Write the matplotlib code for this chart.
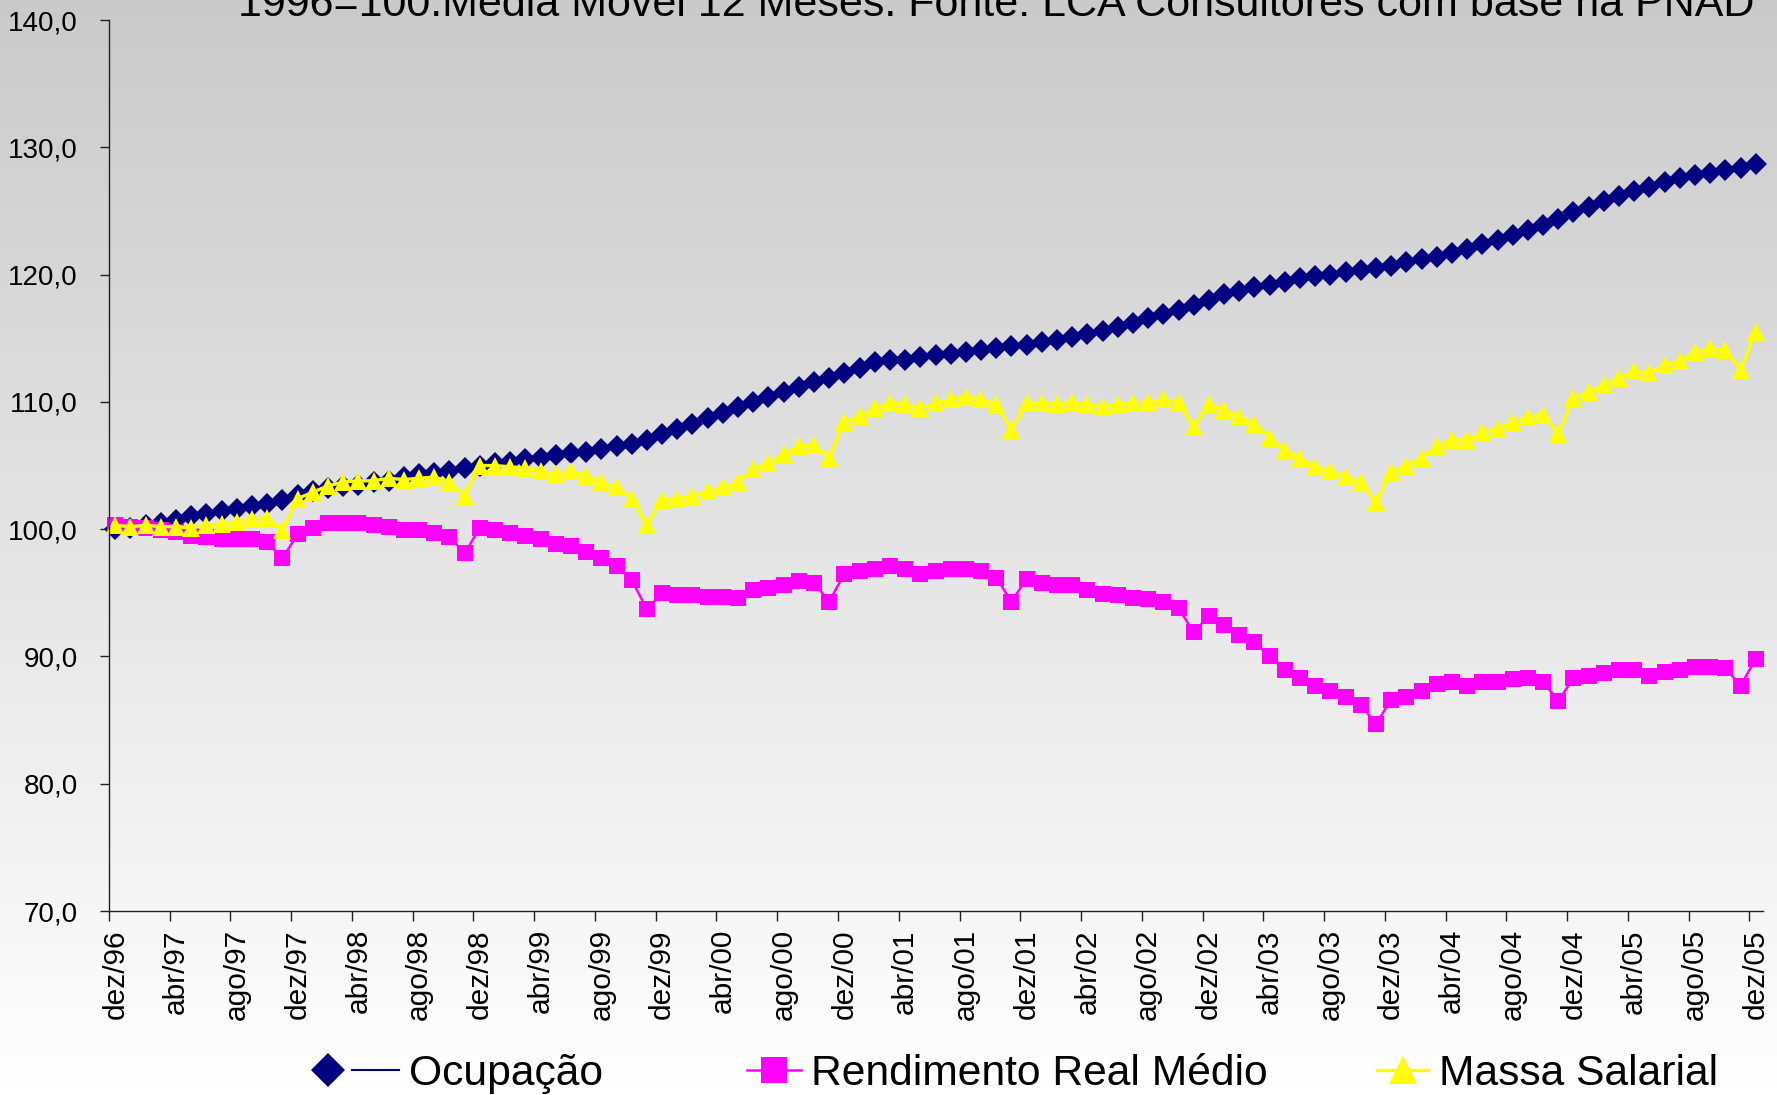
"""Ocupação, Rendimento Real Médio e Massa Salarial (1996=100, média móvel 12 meses)."""

import matplotlib

matplotlib.use("Agg")
import matplotlib.pyplot as plt
import numpy as np
from matplotlib.colors import LinearSegmentedColormap
from matplotlib.legend_handler import HandlerTuple
from matplotlib.lines import Line2D

plt.rcParams["font.family"] = ["Liberation Sans", "DejaVu Sans"]

TITLE = "1996=100.Média Móvel 12 Meses. Fonte: LCA Consultores com base na PNAD"

# meses de dez/96 a dez/05 (109 pontos)
OCUPACAO = [
    100.0, 100.1, 100.3, 100.5, 100.7, 101.0, 101.2, 101.4, 101.6, 101.8,
    102.0, 102.3, 102.7, 103.0, 103.2, 103.4, 103.5, 103.7, 103.8, 104.1,
    104.3, 104.4, 104.6, 104.8, 105.0, 105.2, 105.3, 105.5, 105.6, 105.8,
    106.0, 106.1, 106.3, 106.5, 106.7, 107.0, 107.5, 107.9, 108.3, 108.7,
    109.1, 109.6, 110.0, 110.4, 110.8, 111.2, 111.6, 111.9, 112.3, 112.7,
    113.1, 113.3, 113.3, 113.5, 113.7, 113.8, 113.9, 114.1, 114.2, 114.4,
    114.5, 114.7, 114.9, 115.1, 115.3, 115.6, 115.9, 116.2, 116.6, 116.9,
    117.2, 117.6, 118.0, 118.5, 118.7, 119.0, 119.2, 119.4, 119.7, 119.9,
    120.0, 120.2, 120.4, 120.5, 120.7, 121.0, 121.2, 121.4, 121.7, 122.0,
    122.4, 122.7, 123.1, 123.5, 123.9, 124.4, 124.9, 125.3, 125.8, 126.2,
    126.6, 126.9, 127.3, 127.6, 127.8, 128.0, 128.2, 128.4, 128.7,
]
RENDIMENTO = [
    100.3, 100.2, 100.1, 99.9, 99.8, 99.5, 99.4, 99.2, 99.2, 99.2,
    99.0, 97.7, 99.6, 100.1, 100.5, 100.5, 100.5, 100.3, 100.2, 99.9,
    99.9, 99.7, 99.4, 98.1, 100.1, 99.9, 99.7, 99.5, 99.2, 98.8,
    98.7, 98.2, 97.7, 97.1, 96.0, 93.7, 95.0, 94.8, 94.8, 94.7,
    94.7, 94.6, 95.2, 95.4, 95.6, 95.9, 95.8, 94.3, 96.5, 96.7,
    96.9, 97.1, 96.9, 96.5, 96.7, 96.9, 96.9, 96.7, 96.2, 94.3,
    96.1, 95.8, 95.6, 95.6, 95.2, 94.9, 94.8, 94.6, 94.5, 94.3,
    93.8, 91.9, 93.2, 92.5, 91.7, 91.1, 90.0, 88.9, 88.3, 87.7,
    87.3, 86.8, 86.2, 84.7, 86.6, 86.8, 87.3, 87.8, 88.0, 87.7,
    88.0, 88.0, 88.2, 88.3, 88.0, 86.5, 88.3, 88.5, 88.7, 88.9,
    88.9, 88.5, 88.8, 88.9, 89.2, 89.2, 89.1, 87.7, 89.8,
]
MASSA = [
    100.3, 100.2, 100.3, 100.2, 100.2, 100.1, 100.3, 100.4, 100.6, 100.8,
    100.9, 99.9, 102.4, 102.9, 103.4, 103.7, 103.8, 103.8, 104.0, 103.9,
    104.0, 104.1, 103.7, 102.6, 105.0, 105.0, 104.9, 104.8, 104.6, 104.3,
    104.6, 104.2, 103.7, 103.3, 102.4, 100.3, 102.3, 102.4, 102.6, 103.0,
    103.3, 103.7, 104.7, 105.2, 105.9, 106.5, 106.6, 105.6, 108.4, 108.9,
    109.5, 109.9, 109.8, 109.5, 109.9, 110.2, 110.4, 110.2, 109.8, 107.8,
    109.9, 109.9, 109.8, 110.0, 109.8, 109.6, 109.8, 109.9, 110.0, 110.2,
    110.0, 108.0, 109.8, 109.4, 108.8, 108.3, 107.2, 106.2, 105.6, 104.9,
    104.6, 104.1, 103.7, 102.1, 104.5, 105.0, 105.6, 106.5, 107.0, 107.0,
    107.6, 107.9, 108.4, 108.8, 109.0, 107.5, 110.3, 110.8, 111.3, 111.9,
    112.4, 112.3, 112.9, 113.2, 113.9, 114.2, 114.1, 112.5, 115.5,
]
TICK_LABELS = [
    "dez/96", "abr/97", "ago/97", "dez/97", "abr/98", "ago/98", "dez/98",
    "abr/99", "ago/99", "dez/99", "abr/00", "ago/00", "dez/00", "abr/01",
    "ago/01", "dez/01", "abr/02", "ago/02", "dez/02", "abr/03", "ago/03",
    "dez/03", "abr/04", "ago/04", "dez/04", "abr/05", "ago/05", "dez/05",
]
Y_TICKS = [70, 80, 90, 100, 110, 120, 130, 140]

NAVY = "#000080"
MAGENTA = "#FF00FF"
YELLOW = "#FFFF00"
TICK_SHIFT = 0.42  # marcas do eixo ficam um pouco antes de cada ponto

fig = plt.figure(figsize=(17.77, 10.95), dpi=100)

# fundo em degradê (cinza no topo, branco embaixo)
bg = fig.add_axes([0, 0, 1, 1], zorder=-10)
grad = np.linspace(0, 1, 256).reshape(-1, 1)
cmap = LinearSegmentedColormap.from_list("bg", ["#cacaca", "#ffffff"])
bg.imshow(grad, aspect="auto", cmap=cmap, extent=[0, 1, 0, 1], origin="upper")
bg.axis("off")

ax = fig.add_axes([0.0613, 0.168, 0.931, 0.8137])
ax.set_facecolor("none")

x = np.arange(len(OCUPACAO))
ax.plot(x, OCUPACAO, color=NAVY, linewidth=1.5, marker="D", markersize=11.5,
        markeredgewidth=0, clip_on=False)
ax.plot(x, RENDIMENTO, color=MAGENTA, linewidth=1.8, marker="s", markersize=12,
        markeredgewidth=0, clip_on=False)
ax.plot(x, MASSA, color=YELLOW, linewidth=2.4, marker="^", markersize=13,
        markeredgewidth=0, clip_on=False)

ax.set_xlim(-TICK_SHIFT, 108.5)
ax.set_ylim(70, 140)
ax.set_yticks(Y_TICKS)
ax.set_yticklabels([f"{v:.1f}".replace(".", ",") for v in Y_TICKS])
label_pos = np.arange(0, len(OCUPACAO), 4)
ax.set_xticks(label_pos)
ax.set_xticklabels(TICK_LABELS, rotation=90)
ax.set_xticks(label_pos - TICK_SHIFT, minor=True)

for side in ("top", "right"):
    ax.spines[side].set_visible(False)
for side in ("left", "bottom"):
    ax.spines[side].set_color("#202020")
    ax.spines[side].set_linewidth(1.0)
ax.tick_params(axis="y", direction="out", length=6.5, width=1.0, pad=16,
               labelsize=20, colors="#202020", labelcolor="black")
ax.tick_params(axis="x", which="major", length=0, pad=13,
               labelsize=21.5, labelcolor="black")
ax.tick_params(axis="x", which="minor", direction="out", length=7, width=1.0,
               colors="#202020")

fig.text(0.134, 0.985, TITLE, fontsize=31, va="baseline", ha="left")

# legenda: três entradas posicionadas separadamente
leg_kw = dict(loc="center left", frameon=False, fontsize=30.7, borderpad=0,
              borderaxespad=0, handletextpad=0.25)
h_ocup = (
    Line2D([], [], color=NAVY, linestyle="none", marker="D", markersize=17, markeredgewidth=0),
    Line2D([], [], color=NAVY, linewidth=1.5),
)
fig.legend([h_ocup], ["Ocupação"], bbox_to_anchor=(0.1716, 0.019),
           handlelength=2.2, handler_map={tuple: HandlerTuple(ndivide=None, pad=0)},
           **leg_kw)
h_rend = Line2D([], [], color=MAGENTA, linewidth=1.8, marker="s", markersize=19, markeredgewidth=0)
fig.legend([h_rend], ["Rendimento Real Médio"], bbox_to_anchor=(0.4205, 0.019),
           handlelength=1.25, **leg_kw)
h_massa = Line2D([], [], color=YELLOW, linewidth=2.4, marker="^", markersize=20, markeredgewidth=0)
fig.legend([h_massa], ["Massa Salarial"], bbox_to_anchor=(0.775, 0.019),
           handlelength=1.2, **leg_kw)

fig.savefig("out.png", dpi=100)
